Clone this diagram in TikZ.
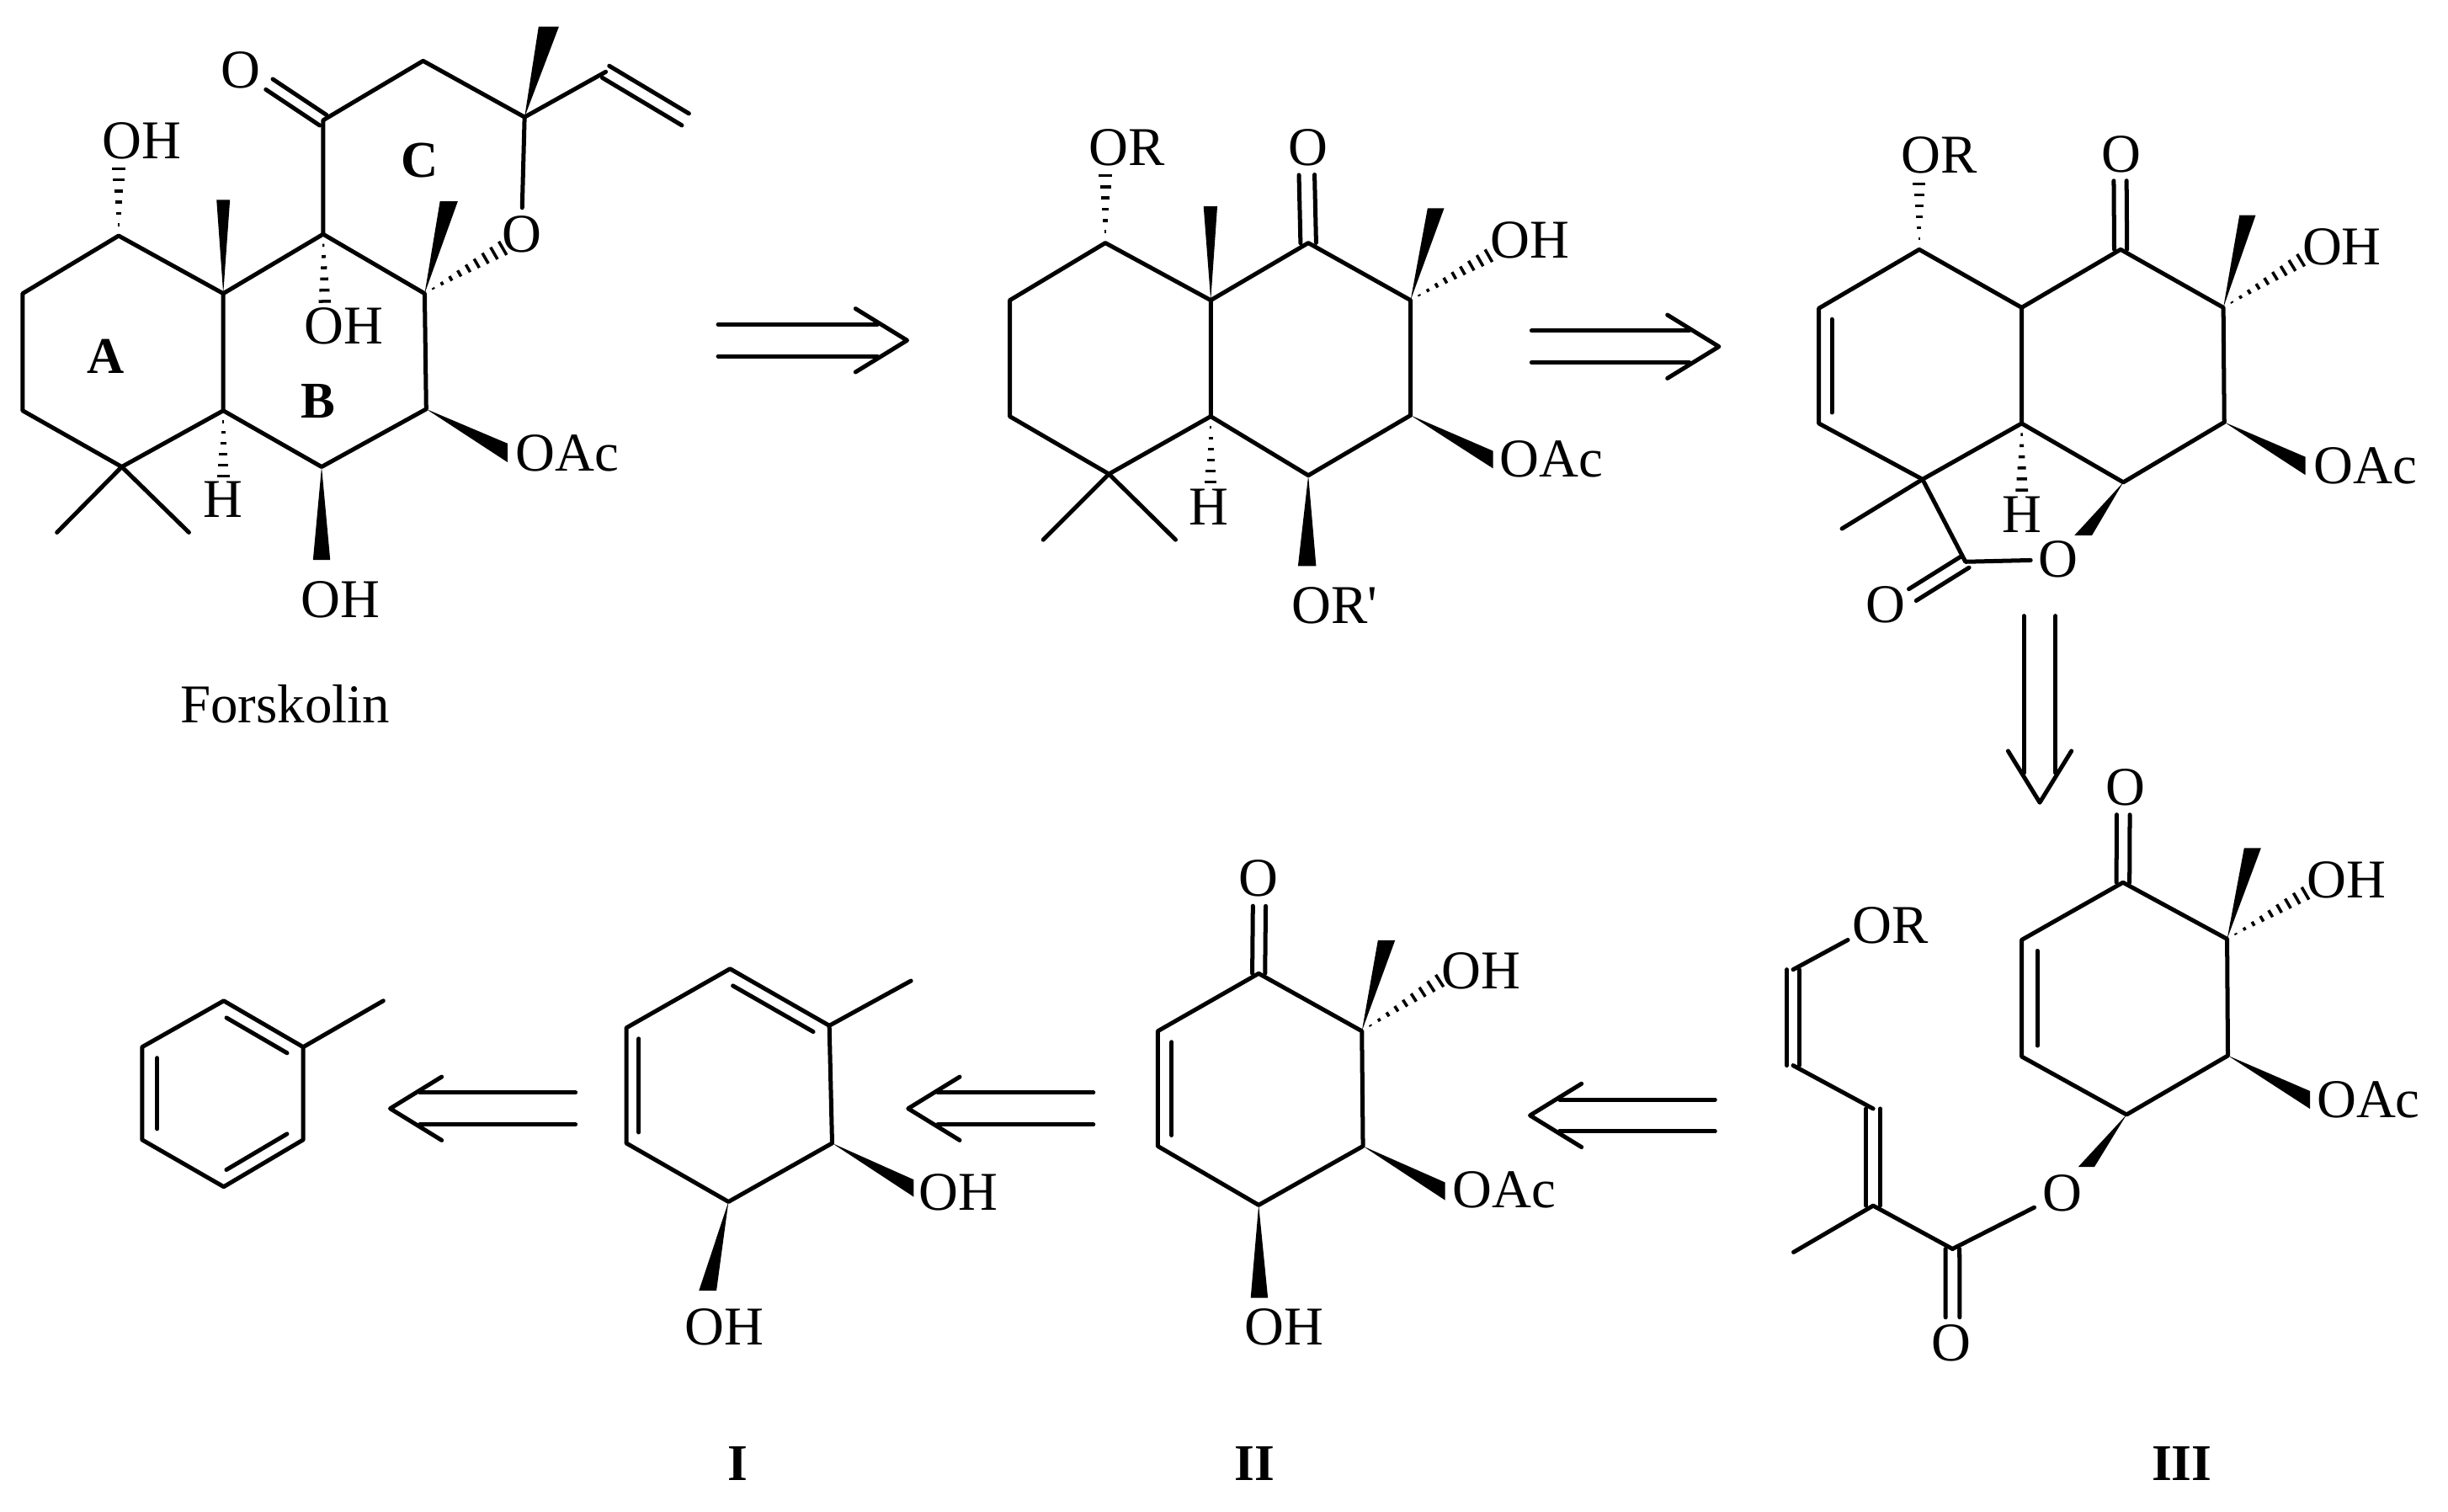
\documentclass[tikz,border=0pt]{standalone}
\usepackage{fontspec}
\setmainfont{Liberation Serif}
\usetikzlibrary{calc}

\newcommand{\wedgebond}[4]{\fill (#1) -- ([shift={(#3,#4)}]#2) -- ([shift={(-#3,-#4)}]#2) -- cycle;}
\newcommand{\hashbond}[4]{\foreach \i in {1,...,#4}{
    \pgfmathsetmacro{\t}{\i/#4}
    \path (#1) -- (#2) coordinate[pos=\t] (hc);
    \draw[hash] ($(hc)!\t*#3!90:(#1)$) -- ($(hc)!\t*#3!-90:(#1)$);}}
\newcommand{\dblbond}[3]{\draw[bond] ($(#1)!#3!90:(#2)$) -- ($(#2)!#3!-90:(#1)$);
    \draw[bond] ($(#1)!#3!-90:(#2)$) -- ($(#2)!#3!90:(#1)$);}
\newcommand{\innerbond}[3]{\draw[bond,shorten <=7pt,shorten >=7pt] ($(#1)!#3!90:(#2)$) -- ($(#2)!#3!-90:(#1)$);}
\newcommand{\retroarrow}[2]{\coordinate (rb) at ($(#2)!19pt!(#1)$);
    \coordinate (rc) at ($(#2)!33pt!(#1)$);
    \draw[bond] ($(#1)!10.2pt!90:(#2)$) -- ($(rb)!10.2pt!90:(#2)$);
    \draw[bond] ($(#1)!10.2pt!-90:(#2)$) -- ($(rb)!10.2pt!-90:(#2)$);
    \draw[bond] ($(rc)!20.3pt!90:(#2)$) -- (#2) -- ($(rc)!20.3pt!-90:(#2)$);}

\begin{document}
\begin{tikzpicture}[x=1pt,y=-1pt,
	bond/.style={line width=2.7pt,line cap=round,line join=round},
	hash/.style={line width=1.9pt},
	atom/.style={font=\fontsize{35}{38}\selectfont,inner sep=0pt},
	oxy/.style={atom,inner sep=5pt},
	tag/.style={font=\fontsize{33}{36}\selectfont\bfseries,inner sep=0pt}]

\useasboundingbox (0,0) rectangle (1568,968);

\foreach \n/\x/\y in {fa1/76/151,fa2/14.5/188,fa3/14.5/263,fa4/78/299,fa5/143/263,fa6/143/188,
	fb1/207/150,fb2/272/188,fb3/273/262,fb4/206/299,fc1/207/77,fc2/271/39,fc3/336/75,
	fv1/388/46,fv2/439/76.5,fk/172.5/54,fm1/143/128,fm2/287.5/129,fm3/351.5/17,
	fm4/36.5/341,fm5/121/341,fw1/206/358.6,fw2/325/290,fh1/76/108,fh2/208/193,fh3/143/305,fh4/322/159,
	da1/708/155.6,da2/646.8/192.3,da3/646.8/266.7,da4/710.3/303.6,da5/775.5/266.7,da6/775.5/192.3,
	db1/838/155.6,db2/903.5/192.3,db3/903.5/266,db4/838/304.5,dk/837/112,dm1/775.3/132.2,dm2/919.7/133.4,
	dm3/668.2/345.7,dm4/753/345.7,dw1/956.3/294.4,dw2/837.2/362.5,dh1/708/112.4,dh2/953.5/163.8,dh3/775.5/308.7,
	la1/1229.3/159.8,la2/1165/197.5,la3/1165/271.2,la4/1231.4/307,la5/1294.9/271.2,la6/1294.9/197,
	lb1/1358.3/159.8,lb2/1424.1/197,lb3/1424.7/270.4,lb4/1360/308.9,lk/1358/115.8,lm1/1439.6/137.8,
	lm2/1179.8/338.6,lc/1258.9/359.8,lk2/1225/381,lw1/1476.6/298.4,lw2/1334.4/342.8,
	lh1/1229.3/117.7,lh2/1473.7/166.7,lh3/1295/313.9,
	ea1/1359.8/565.2,ea2/1294.9/602,ea3/1294.9/676.7,ea4/1362.1/713.9,ea5/1427/676.1,ea6/1426.5/601.4,
	ek/1360/521.8,em1/1442.8/543.2,ew1/1479.6/704.5,ew2/1336.3/747.4,eh1/1476.6/572.2,
	ec/1250.6/799.9,ek2/1250.7/843.7,ed1/1199.8/772.2,ed2/1199.8/710.1,em2/1148.8/802,
	ed3/1148.5/682.4,ed4/1148.5/621,ed5/1183.6/602,
	ka1/806.2/623.5,ka2/741.6/660.4,ka3/741.6/734.1,ka4/806.2/771.8,ka5/873/734.1,ka6/872.3/660.4,
	kk/806.6/580.3,km1/888.1/602.2,kw1/925.6/763,kw2/806.6/831.2,kh1/922.1/628.2,
	ca1/467.6/620.5,ca2/401.2/658.3,ca3/401.2/732.2,ca4/466.6/769.7,ca5/533/732.2,ca6/531.2/656.9,
	cm1/583.5/628.2,cw1/453.3/826.6,cw2/585.2/761,
	ta1/143.3/641,ta2/91/670.6,ta3/91/730,ta4/143.3/760.1,ta5/194.2/730,ta6/194.2/670.6,tm1/245.5/641,
	r1a/460/218,r1b/581/218,r2a/981/222,r2b/1101/222,r3a/1306.5/394.5,r3b/1306.5/514,
	r4a/1098.5/714.4,r4b/980/714.4,r5a/700.3/710,r5b/581.7/710,r6a/368.6/710,r6b/249.9/710}
	\coordinate (\n) at (\x,\y);

\node[atom] (fOH1) at (91,90) {OH};
\node[atom] (fOH2) at (220,209) {OH};
\node[atom] (fOH3) at (218,384) {OH};
\node[atom] (fOAc) at (363.5,290) {OAc};
\node[atom] (fH) at (143,320) {H};
\node[atom] (fO1) at (154,45) {O};
\node[oxy] (fO2) at (334,150) {O};
\node[tag] (fA) at (67.5,228) {A};
\node[tag] (fB) at (204,257) {B};
\node[tag] (fC) at (269,103) {C};
\node[atom] (fname) at (182.6,451) {Forskolin};

\draw[bond] (fa1) -- (fa2) -- (fa3) -- (fa4) -- (fa5) -- (fa6) -- cycle;
\draw[bond] (fa6) -- (fb1) -- (fb2) -- (fb3) -- (fb4) -- (fa5);
\draw[bond] (fb1) -- (fc1) -- (fc2) -- (fc3) -- (fO2);
\draw[bond] (fc3) -- (fv1);
\draw[bond] (fa4) -- (fm4);
\draw[bond] (fa4) -- (fm5);
\dblbond{fv1}{fv2}{4.4pt}
\dblbond{fc1}{fk}{4pt}
\wedgebond{fa6}{fm1}{4.3}{0}
\wedgebond{fb2}{fm2}{5.7}{0}
\wedgebond{fc3}{fm3}{6.5}{0}
\wedgebond{fb4}{fw1}{5.5}{0}
\wedgebond{fb3}{fw2}{0}{6}
\hashbond{fa1}{fh1}{4.3pt}{6}
\hashbond{fb1}{fh2}{3.9pt}{6}
\hashbond{fa5}{fh3}{4pt}{6}
\hashbond{fb2}{fh4}{5pt}{9}

\retroarrow{r1a}{r1b}

\node[atom] (dOR1) at (722,94.8) {OR};
\node[atom] (dO) at (838,94.3) {O};
\node[atom] (dOH) at (980,154) {OH};
\node[atom] (dOAc) at (993.7,294) {OAc};
\node[atom] (dH) at (774,325) {H};
\node[atom] (dOR2) at (855,387.8) {OR\textquotesingle};

\draw[bond] (da1) -- (da2) -- (da3) -- (da4) -- (da5) -- (da6) -- cycle;
\draw[bond] (da6) -- (db1) -- (db2) -- (db3) -- (db4) -- (da5);
\draw[bond] (da4) -- (dm3);
\draw[bond] (da4) -- (dm4);
\dblbond{db1}{dk}{5pt}
\wedgebond{da6}{dm1}{4.4}{0}
\wedgebond{db2}{dm2}{5.3}{0}
\wedgebond{db3}{dw1}{0}{5.6}
\wedgebond{db4}{dw2}{5.8}{0}
\hashbond{da1}{dh1}{4.2pt}{6}
\hashbond{db2}{dh2}{4.6pt}{9}
\hashbond{da5}{dh3}{3.8pt}{6}

\retroarrow{r2a}{r2b}

\node[atom] (lOR) at (1242,99.3) {OR};
\node[atom] (lO1) at (1358.6,98.7) {O};
\node[atom] (lOH) at (1500,157.9) {OH};
\node[atom] (lOAc) at (1515,298.2) {OAc};
\node[atom] (lH) at (1295,329.8) {H};
\node[oxy] (lO2) at (1318.5,358.4) {O};
\node[atom] (lO3) at (1207.8,387.3) {O};

\draw[bond] (la1) -- (la2) -- (la3) -- (la4) -- (la5) -- (la6) -- cycle;
\draw[bond] (la6) -- (lb1) -- (lb2) -- (lb3) -- (lb4) -- (la5);
\draw[bond] (la4) -- (lm2);
\draw[bond] (la4) -- (lc) -- (lO2);
\innerbond{la2}{la3}{8.3pt}
\dblbond{lb1}{lk}{4.1pt}
\dblbond{lc}{lk2}{4.4pt}
\wedgebond{lb2}{lm1}{5.2}{0}
\wedgebond{lb3}{lw1}{0}{5.8}
\wedgebond{lb4}{lw2}{5.6}{0}
\hashbond{la1}{lh1}{4.1pt}{6}
\hashbond{lb2}{lh2}{4.6pt}{9}
\hashbond{la5}{lh3}{4pt}{6}

\retroarrow{r3a}{r3b}

\node[atom] (eOH) at (1503,563.6) {OH};
\node[atom] (eOAc) at (1517,704.5) {OAc};
\node[atom] (eO1) at (1361.3,504.4) {O};
\node[oxy] (eO2) at (1320.8,764.3) {O};
\node[atom] (eO3) at (1250,860.4) {O};
\node[atom] (eOR) at (1210.8,592.6) {OR};
\node[tag] (eIII) at (1397.5,937.5) {III};

\draw[bond] (ea1) -- (ea2) -- (ea3) -- (ea4) -- (ea5) -- (ea6) -- cycle;
\draw[bond] (ec) -- (eO2);
\draw[bond] (ec) -- (ed1) -- (em2);
\draw[bond] (ed2) -- (ed3);
\draw[bond] (ed4) -- (ed5);
\innerbond{ea2}{ea3}{10pt}
\dblbond{ea1}{ek}{4.2pt}
\dblbond{ec}{ek2}{4.5pt}
\dblbond{ed1}{ed2}{4.5pt}
\dblbond{ed3}{ed4}{4pt}
\wedgebond{ea6}{em1}{5.4}{0}
\wedgebond{ea5}{ew1}{0}{5.7}
\wedgebond{ea4}{ew2}{5.2}{0}
\hashbond{ea6}{eh1}{4.6pt}{9}

\retroarrow{r4a}{r4b}

\node[atom] (kO) at (806.2,562.5) {O};
\node[atom] (kOH1) at (948.6,621.9) {OH};
\node[atom] (kOAc) at (963.4,762.3) {OAc};
\node[atom] (kOH2) at (822.4,849.8) {OH};
\node[tag] (kII) at (803.5,937.4) {II};

\draw[bond] (ka1) -- (ka2) -- (ka3) -- (ka4) -- (ka5) -- (ka6) -- cycle;
\innerbond{ka2}{ka3}{8.9pt}
\dblbond{ka1}{kk}{4.1pt}
\wedgebond{ka6}{km1}{5.5}{0}
\wedgebond{ka5}{kw1}{0}{5.7}
\wedgebond{ka4}{kw2}{5.5}{0}
\hashbond{ka6}{kh1}{4.6pt}{9}

\retroarrow{r5a}{r5b}

\node[atom] (cOH1) at (613.7,763.6) {OH};
\node[atom] (cOH2) at (463.8,849.8) {OH};
\node[tag] (cI) at (472.8,937.4) {I};

\draw[bond] (ca1) -- (ca2) -- (ca3) -- (ca4) -- (ca5) -- (ca6) -- cycle;
\draw[bond] (ca6) -- (cm1);
\innerbond{ca2}{ca3}{8pt}
\innerbond{ca6}{ca1}{8.5pt}
\wedgebond{ca4}{cw1}{5.6}{0}
\wedgebond{ca5}{cw2}{0}{5.5}

\retroarrow{r6a}{r6b}

\draw[bond] (ta1) -- (ta2) -- (ta3) -- (ta4) -- (ta5) -- (ta6) -- cycle;
\draw[bond] (ta6) -- (tm1);
\innerbond{ta2}{ta3}{9.7pt}
\innerbond{ta6}{ta1}{8.5pt}
\innerbond{ta4}{ta5}{8.5pt}

\end{tikzpicture}
\end{document}
